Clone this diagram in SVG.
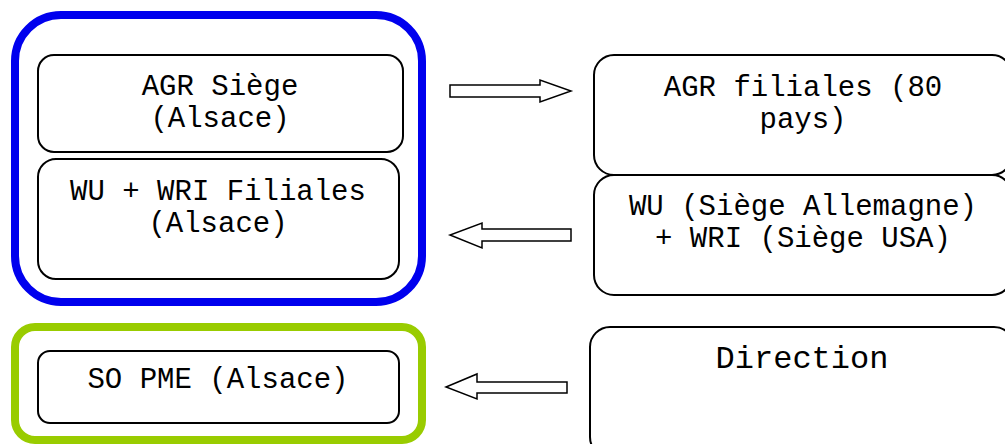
<svg xmlns="http://www.w3.org/2000/svg" width="1005" height="444" viewBox="0 0 1005 444">
<style>
.box{fill:#fff;stroke:#000;stroke-width:2}
.t{font-family:"Liberation Mono","Courier New",monospace;font-size:29px;fill:#000;text-anchor:middle}
.arr{fill:#fff;stroke:#000;stroke-width:1.5;stroke-linejoin:miter}
</style>
<rect width="1005" height="444" fill="#fff"/>
<g id="group-blue">
<rect x="15" y="15" width="407" height="287" rx="46" ry="46" fill="none" stroke="#0000ee" stroke-width="8"/>
</g>
<g id="group-green">
<rect x="15" y="327" width="407" height="113" rx="20" ry="20" fill="none" stroke="#99cc00" stroke-width="8"/>
</g>
<g id="agr-siege">
<rect class="box" x="38" y="55" width="365" height="97" rx="16"/>
<text class="t" x="220" y="95">AGR Siège</text>
<text class="t" x="220" y="127">(Alsace)</text>
</g>
<g id="wu-wri-filiales">
<rect class="box" x="38" y="159" width="361" height="120" rx="18"/>
<text class="t" x="218" y="200">WU + WRI Filiales</text>
<text class="t" x="218" y="232">(Alsace)</text>
</g>
<g id="so-pme">
<rect class="box" x="38" y="351" width="361" height="72" rx="12"/>
<text class="t" x="218" y="388">SO PME (Alsace)</text>
</g>
<g id="agr-filiales">
<rect class="box" x="594" y="55" width="418" height="120" rx="20"/>
<text class="t" x="803" y="96">AGR filiales (80</text>
<text class="t" x="803" y="128">pays)</text>
</g>
<g id="wu-siege">
<rect class="box" x="594" y="175" width="418" height="120" rx="20"/>
<text class="t" x="803" y="215">WU (Siège Allemagne)</text>
<text class="t" x="803" y="247">+ WRI (Siège USA)</text>
</g>
<g id="direction">
<rect class="box" x="590" y="327" width="424" height="130" rx="20"/>
<text class="t" x="802" y="368" style="font-size:32px">Direction</text>
</g>
<g id="connectors">
<polygon class="arr" points="450,85 540,85 540,80 571,91 540,102 540,97 450,97"/>
<polygon class="arr" points="571,229 482,229 482,223 450,235 482,248 482,241 571,241"/>
<polygon class="arr" points="567,382 477,382 477,374 446,387 477,399 477,393 567,393"/>
</g>
</svg>
